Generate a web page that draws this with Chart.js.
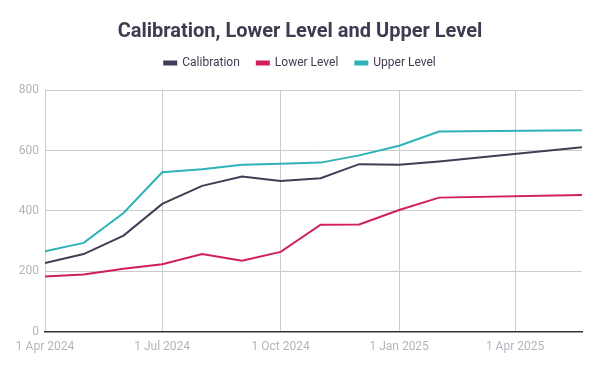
<!DOCTYPE html>
<html>
<head>
<meta charset="utf-8">
<script src="https://cdn.jsdelivr.net/npm/chart.js@4.4.1/dist/chart.umd.min.js"></script>
<style>
html,body{margin:0;padding:0;background:#fff;}
#wrap{width:600px;height:371px;position:relative;}
</style>
</head>
<body>
<div id="wrap"><canvas id="c" width="600" height="371"></canvas></div>
<script>
const dates = ['2024-04-01','2024-05-01','2024-06-01','2024-07-01','2024-08-01','2024-09-01','2024-10-01','2024-11-01','2024-12-01','2025-01-01','2025-02-01','2025-05-23'];
const calibration = [227,257,318,423,483,514,499,508,555,553,564,611];
const lowerLevel  = [183,189,208,223,257,235,264,354,355,403,444,453];
const upperLevel  = [266,294,393,528,538,553,556,560,584,616,663,667];
const tickDates = ['2024-04-01','2024-07-01','2024-10-01','2025-01-01','2025-04-01'];
const tickLabels = ['1 Apr 2024','1 Jul 2024','1 Oct 2024','1 Jan 2025','1 Apr 2025'];
const seriesNames = ['Calibration','Lower Level','Upper Level'];
const colors = ['#433c55','#d11f59','#2fb2b9'];

const DAY = 86400000;
const origin = Date.parse(dates[0] + 'T00:00:00Z');
const toDay = s => (Date.parse(s + 'T00:00:00Z') - origin) / DAY;
const xs = dates.map(toDay);
const tickDays = tickDates.map(toDay);

const mk = (arr, i) => ({
  label: seriesNames[i],
  data: arr.map((v, k) => ({x: xs[k], y: v})),
  borderColor: colors[i],
  backgroundColor: colors[i],
  borderWidth: 2,
  pointRadius: 0,
  pointHoverRadius: 0,
  tension: 0
});

new Chart(document.getElementById('c'), {
  type: 'line',
  data: { datasets: [mk(calibration,0), mk(lowerLevel,1), mk(upperLevel,2)] },
  options: {
    responsive: false,
    animation: false,
    devicePixelRatio: 1,
    layout: { padding: { left: 18, right: 18, top: 8, bottom: 9 } },
    plugins: {
      title: {
        display: true,
        text: 'Calibration, Lower Level and Upper Level',
        color: '#403b50',
        font: { family: 'Roboto', size: 20, weight: 'bold' },
        padding: { top: 12, bottom: -4 }
      },
      subtitle: {
        display: true,
        text: ' ',
        weight: 500,
        font: { size: 1 },
        padding: { top: 0, bottom: 10 }
      },
      legend: {
        display: true,
        labels: {
          color: '#403b50',
          font: { family: 'Roboto', size: 12 },
          boxWidth: 12,
          boxHeight: 3,
          padding: 17
        }
      },
      tooltip: { enabled: false }
    },
    scales: {
      x: {
        type: 'linear',
        min: 0,
        max: xs[xs.length - 1],
        afterBuildTicks: ax => { ax.ticks = tickDays.map(v => ({value: v})); },
        ticks: {
          color: '#b4b4bc',
          font: { family: 'Roboto', size: 12 },
          maxRotation: 0,
          autoSkip: false,
          padding: 8,
          callback: v => { const i = tickDays.indexOf(v); return i >= 0 ? tickLabels[i] : ''; }
        },
        grid: { color: '#cccccc', drawTicks: false },
        border: { color: '#333333', width: 1.5 }
      },
      y: {
        min: 0,
        max: 800,
        afterFit: ax => { ax.width = 27; },
        ticks: {
          stepSize: 200,
          color: '#b4b4bc',
          font: { family: 'Roboto', size: 12 },
          padding: 6
        },
        grid: { color: '#cccccc', drawTicks: false },
        border: { display: false }
      }
    }
  }
});
</script>
</body>
</html>
